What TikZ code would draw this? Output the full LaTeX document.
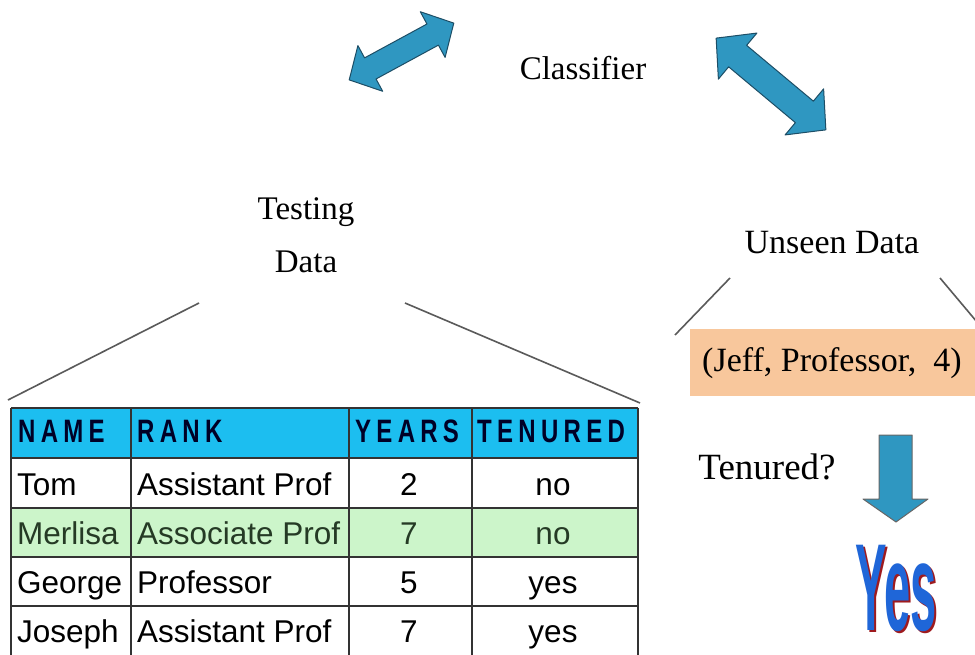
\documentclass[tikz,border=0pt]{standalone}
\usepackage{fontspec}
\usepackage{graphicx}
\setmainfont{Liberation Serif}
\newfontfamily\tabfont{Liberation Sans}
\newfontfamily\headfont[LetterSpace=22]{Liberation Sans}
\definecolor{arrowblue}{HTML}{2F97C1}
\definecolor{arrowedge}{HTML}{1D4E66}
\definecolor{headcyan}{HTML}{1CBEF0}
\definecolor{rowgreen}{HTML}{CCF5CA}
\definecolor{rowtext}{HTML}{253A25}
\definecolor{peach}{HTML}{F8C79C}
\definecolor{yesblue}{HTML}{1F66D8}
\definecolor{yesred}{HTML}{9E1A1E}
\definecolor{fanline}{HTML}{5A5A5A}
% double-headed block arrow: centre x, centre y, angle, half length, head length, head half width, shaft half width
\newcommand\DrawDoubleArrow[7]{%
  \begin{scope}[shift={(#1,#2)},rotate=#3]
    \filldraw[fill=arrowblue,draw=arrowedge,line width=1pt,line join=round]
      (-#4,0) -- (-#4+#5,#6) -- (-#4+#5,#7) -- (#4-#5,#7) -- (#4-#5,#6) -- (#4,0)
      -- (#4-#5,-#6) -- (#4-#5,-#7) -- (-#4+#5,-#7) -- (-#4+#5,-#6) -- cycle;
  \end{scope}}
\begin{document}
\begin{tikzpicture}[x=1pt,y=-1pt,
  label/.style={font=\fontsize{33}{36}\selectfont, inner sep=0pt, align=center},
  headtxt/.style={anchor=base west, inner sep=0pt, font=\headfont\bfseries\fontsize{24}{24}\selectfont, text=black!85!blue},
  celltxt/.style={anchor=base west, inner sep=0pt, font=\tabfont\fontsize{31.5}{32}\selectfont},
  cellmid/.style={anchor=base, inner sep=0pt, font=\tabfont\fontsize{31.5}{32}\selectfont},
  fan/.style={draw=fanline, line width=1.6pt},
  grid/.style={draw=black!80, line width=1.4pt}]
\useasboundingbox (0,0) rectangle (975,655);
\fill[white] (0,0) rectangle (975,655);

% block arrows around the classifier (y axis points down, so angles are mirrored)
\DrawDoubleArrow{401.5}{51.5}{28.5}{59.5}{24}{26}{12}
\DrawDoubleArrow{771}{84}{-39.9}{71.5}{28}{30}{14}

% labels
\node[label] (classifier) at (583,68) {Classifier};
\node[label] (testing) at (306,212) {Testing};
\node[label] (data) at (306,262) {Data};
\node[label,font=\fontsize{34}{36}\selectfont] (unseen) at (832,243) {Unseen Data};

% fan lines
\coordinate (tl1) at (199,303);
\coordinate (tl2) at (8,400);
\coordinate (tr1) at (405,303);
\coordinate (tr2) at (640,403);
\coordinate (ul1) at (730,278);
\coordinate (ul2) at (675,335);
\coordinate (ur1) at (940,278);
\coordinate (ur2) at (977,322);
\draw[fan] (tl1) -- (tl2);
\draw[fan] (tr1) -- (tr2);
\draw[fan] (ul1) -- (ul2);
\draw[fan] (ur1) -- (ur2);

% unseen tuple
\fill[peach] (690,329) rectangle (980,396);
\node[label,font=\fontsize{34}{36}\selectfont] (tuple) at (832,363) {(Jeff, Professor,\ \ 4)};

% question and answer
\node[label,font=\fontsize{37}{40}\selectfont] (question) at (767,467) {Tenured?};
\filldraw[fill=arrowblue,draw=black!60,line width=1pt,line join=round]
  (879,435) -- (912,435) -- (912,499) -- (928,499) -- (896,522) -- (863,499) -- (879,499) -- cycle;
\node[inner sep=0pt,text=yesred] (yesshadow) at (898.5,590.5)
  {\scalebox{0.38}[1]{\tabfont\bfseries\fontsize{124}{124}\selectfont Yes}};
\node[inner sep=0pt,text=yesblue] (yes) at (896,588)
  {\scalebox{0.38}[1]{\tabfont\bfseries\fontsize{124}{124}\selectfont Yes}};

% table backgrounds
\fill[headcyan] (11,408) rectangle (638,458);
\fill[rowgreen] (11,508) rectangle (638,557);
% table rules
\draw[grid] (11,408) -- (638,408);
\foreach \yy in {458,508,557,606} \draw[grid] (11,\yy) -- (638,\yy);
\foreach \xx in {11,131,349,472,638} \draw[grid] (\xx,408) -- (\xx,660);

% header
\node[headtxt] (hname) at (18,442) {\scalebox{1}[1.35]{NAME}};
\node[headtxt] (hrank) at (137,442) {\scalebox{1}[1.35]{RANK}};
\node[headtxt] (hyears) at (355,442) {\scalebox{1}[1.35]{YEARS}};
\node[headtxt] (hten) at (477,442) {\scalebox{1}[1.35]{TENURED}};

% rows
\node[celltxt] (n1) at (17,495) {Tom};
\node[celltxt] (r1) at (137,495) {Assistant Prof};
\node[cellmid] (y1) at (409,495) {2};
\node[cellmid] (t1) at (553,495) {no};

\node[celltxt,text=rowtext] (n2) at (17,544) {Merlisa};
\node[celltxt,text=rowtext] (r2) at (137,544) {Associate Prof};
\node[cellmid,text=rowtext] (y2) at (409,544) {7};
\node[cellmid,text=rowtext] (t2) at (553,544) {no};

\node[celltxt] (n3) at (17,593) {George};
\node[celltxt] (r3) at (137,593) {Professor};
\node[cellmid] (y3) at (409,593) {5};
\node[cellmid] (t3) at (553,593) {yes};

\node[celltxt] (n4) at (17,642) {Joseph};
\node[celltxt] (r4) at (137,642) {Assistant Prof};
\node[cellmid] (y4) at (409,642) {7};
\node[cellmid] (t4) at (553,642) {yes};
\end{tikzpicture}
\end{document}
